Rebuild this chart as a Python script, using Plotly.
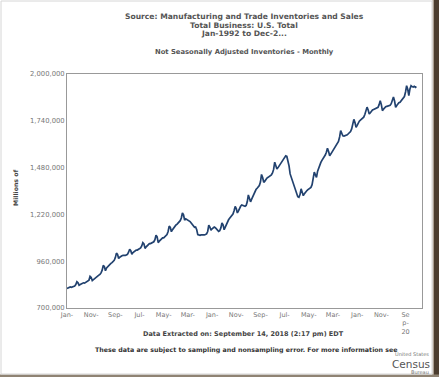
import plotly.graph_objects as go
import pandas as pd

# Total business inventories, not seasonally adjusted, millions of dollars
inventories = [
    809000, 812000, 815000, 817000, 815000, 818000, 820000, 822000, 830000, 846000, 840000, 826000,  # 1992
    830000, 835000, 838000, 840000, 838000, 842000, 843000, 847000, 855000, 876000, 870000, 852000,  # 1993
    858000, 864000, 870000, 875000, 878000, 883000, 887000, 895000, 910000, 937000, 930000, 907000,  # 1994
    922000, 930000, 938000, 945000, 948000, 952000, 958000, 965000, 980000, 1005000, 998000, 975000,  # 1995
    982000, 988000, 990000, 992000, 990000, 992000, 995000, 998000, 1010000, 1026000, 1018000, 999000,  # 1996
    1008000, 1014000, 1018000, 1022000, 1022000, 1025000, 1028000, 1034000, 1045000, 1063000, 1056000, 1031000,  # 1997
    1040000, 1048000, 1052000, 1058000, 1058000, 1060000, 1062000, 1068000, 1080000, 1104000, 1095000, 1063000,  # 1998
    1072000, 1080000, 1085000, 1090000, 1090000, 1095000, 1100000, 1108000, 1125000, 1155000, 1148000, 1124000,  # 1999
    1135000, 1145000, 1152000, 1160000, 1165000, 1170000, 1175000, 1185000, 1200000, 1228000, 1218000, 1188000,  # 2000
    1195000, 1192000, 1190000, 1185000, 1180000, 1172000, 1165000, 1155000, 1148000, 1150000, 1135000, 1108000,  # 2001
    1105000, 1104000, 1106000, 1105000, 1104000, 1106000, 1108000, 1112000, 1125000, 1160000, 1150000, 1132000,  # 2002
    1140000, 1148000, 1150000, 1146000, 1140000, 1135000, 1126000, 1130000, 1145000, 1172000, 1162000, 1135000,  # 2003
    1150000, 1165000, 1180000, 1190000, 1198000, 1205000, 1212000, 1222000, 1240000, 1264000, 1252000, 1228000,  # 2004
    1240000, 1255000, 1265000, 1272000, 1270000, 1268000, 1265000, 1270000, 1290000, 1328000, 1310000, 1290000,  # 2005
    1305000, 1320000, 1335000, 1348000, 1358000, 1365000, 1372000, 1380000, 1400000, 1442000, 1425000, 1398000,  # 2006
    1405000, 1415000, 1422000, 1426000, 1430000, 1435000, 1440000, 1450000, 1470000, 1510000, 1495000, 1472000,  # 2007
    1480000, 1490000, 1500000, 1508000, 1515000, 1525000, 1535000, 1545000, 1542000, 1520000, 1490000, 1445000,  # 2008
    1425000, 1405000, 1385000, 1365000, 1345000, 1325000, 1318000, 1315000, 1330000, 1362000, 1345000, 1324000,  # 2009
    1335000, 1345000, 1350000, 1356000, 1360000, 1362000, 1370000, 1385000, 1420000, 1455000, 1440000, 1426000,  # 2010
    1460000, 1480000, 1495000, 1509000, 1520000, 1530000, 1537000, 1550000, 1565000, 1588000, 1570000, 1546000,  # 2011
    1555000, 1565000, 1574000, 1585000, 1595000, 1602000, 1610000, 1625000, 1650000, 1685000, 1670000, 1657000,  # 2012
    1655000, 1657000, 1658000, 1662000, 1668000, 1676000, 1680000, 1695000, 1715000, 1748000, 1730000, 1704000,  # 2013
    1715000, 1732000, 1738000, 1744000, 1750000, 1752000, 1760000, 1775000, 1795000, 1816000, 1800000, 1778000,  # 2014
    1785000, 1796000, 1800000, 1803000, 1806000, 1806000, 1808000, 1815000, 1830000, 1852000, 1830000, 1796000,  # 2015
    1805000, 1815000, 1818000, 1820000, 1822000, 1824000, 1826000, 1835000, 1850000, 1872000, 1850000, 1815000,  # 2016
    1825000, 1835000, 1840000, 1843000, 1850000, 1861000, 1865000, 1875000, 1900000, 1935000, 1915000, 1880000,  # 2017
    1917000, 1935000, 1930000, 1928000, 1932000, 1926000, 1930000,  # 2018
]
start_month = "1992-01-01"

tick_dates = ["1992-01-01", "1993-11-01", "1995-09-01", "1997-07-01", "1999-05-01",
              "2001-03-01", "2003-01-01", "2004-11-01", "2006-09-01", "2008-07-01",
              "2010-05-01", "2012-03-01", "2014-01-01", "2015-11-01", "2017-09-01"]
tick_labels = ["Jan-", "Nov-", "Sep-", "Jul-", "May-", "Mar-", "Jan-", "Nov-", "Sep-",
               "Jul-", "May-", "Mar-", "Jan-", "Nov-", "Se<br>p-<br>20"]
y_ticks = [700000, 960000, 1220000, 1480000, 1740000, 2000000]

months = pd.date_range(start_month, periods=len(inventories), freq="MS")

W, H = 439, 377
L, R, T, B = 67, 422, 74, 308
FONT = "DejaVu Sans"


def px(xp):
    return (xp - L) / (R - L)


def py(yp):
    return (B - yp) / (B - T)


fig = go.Figure()
fig.add_trace(go.Scatter(x=months, y=inventories, mode="lines",
                         line=dict(color="#22426f", width=1.7), hoverinfo="skip",
                         showlegend=False))

ann = []


def text(t, xp, yp, size, bold=True, color="#555555", xanchor="center", angle=0):
    ann.append(dict(text=f"<b>{t}</b>" if bold else t, x=px(xp), y=py(yp), xref="paper",
                    yref="paper", showarrow=False, xanchor=xanchor, yanchor="middle",
                    textangle=angle, font=dict(family=FONT, size=size, color=color)))


text("Source: Manufacturing and Trade Inventories and Sales", 244, 16, 7.6)
text("Total Business: U.S. Total", 244, 25, 7.6)
text("Jan-1992 to Dec-2...", 244, 34, 7.6)
text("Not Seasonally Adjusted Inventories - Monthly", 244, 52, 6.8)
text("Millions of", 15, 188, 6.2, color="#444444", angle=-90)
text("Data Extracted on: September 14, 2018 (2:17 pm) EDT", 243, 334, 6.5, color="#444444")
text("These data are subject to sampling and nonsampling error. For more information see",
     246, 350, 6.3, color="#333333")
text("United States", 431, 354, 5, bold=False, color="#777777", xanchor="right")
text("Census", 432, 364, 10.5, bold=False, color="#555555", xanchor="right")
text("Bureau", 431, 372, 5, bold=False, color="#777777", xanchor="right")

shapes = [
    # right shadow
    dict(type="rect", xref="paper", yref="paper", x0=px(434), x1=px(440), y0=py(378), y1=py(0),
         fillcolor="#4b3d2f", line=dict(width=0), layer="below"),
    dict(type="rect", xref="paper", yref="paper", x0=px(432.5), x1=px(434), y0=py(378), y1=py(0),
         fillcolor="#a89c8e", line=dict(width=0), layer="below"),
    # bottom shadow
    dict(type="rect", xref="paper", yref="paper", x0=px(0), x1=px(440), y0=py(378), y1=py(374.5),
         fillcolor="#8f8373", line=dict(width=0), layer="below"),
    # outer thin frame
    dict(type="rect", xref="paper", yref="paper", x0=px(1), x1=px(432), y0=py(374), y1=py(1),
         fillcolor="rgba(0,0,0,0)", line=dict(width=1, color="#d6d6d6"), layer="below"),
]

fig.update_layout(
    width=W, height=H,
    margin=dict(l=L, r=W - R, t=T, b=H - B),
    paper_bgcolor="white", plot_bgcolor="white",
    showlegend=False, hovermode=False,
    annotations=ann, shapes=shapes,
    xaxis=dict(type="date", range=["1992-01-01", "2018-12-01"], tickvals=tick_dates,
               ticktext=tick_labels, tickangle=0, showgrid=False, zeroline=False,
               showline=True, linecolor="#999999", linewidth=1, mirror=True, ticks="",
               tickfont=dict(family=FONT, size=6.5, color="#777777")),
    yaxis=dict(range=[700000, 2000000], tickvals=y_ticks, tickformat=",d", showgrid=False,
               zeroline=False, showline=True, linecolor="#999999", linewidth=1, mirror=True,
               ticks="", tickfont=dict(family=FONT, size=6.8, color="#777777")),
)

fig.write_html("out.html", config={"displayModeBar": False},
               post_script="document.body.style.margin='0';document.body.style.overflow='hidden';")
